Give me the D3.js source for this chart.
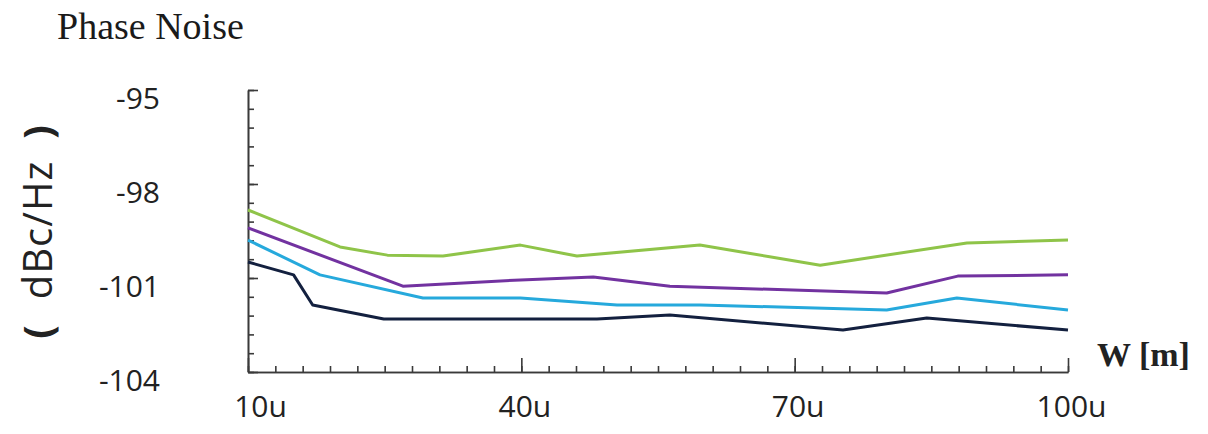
<!DOCTYPE html>
<html lang="en">
  <head>
    <title>Phase Noise</title>
    <script src="https://d3js.org/d3.v7.min.js"></script>
    <style>
      body {
        margin: 0;
        background: #fff;
      }

      .axis path,
      .axis line {
        stroke: #3a3a3a;
        stroke-width: 1.6px;
      }

      .axis text {
        font-family: "Open Sans", sans-serif;
        font-size: 30px;
        fill: #222;
      }

      .series {
        fill: none;
        stroke-width: 3px;
        stroke-linejoin: round;
      }
    </style>
  </head>
  <body>
    <script>
      // widths (u) and phase noise (dBc/Hz)
      const greenW  = [10, 20.1, 25.3, 31.4, 39.9, 46.1, 59.6, 72.8, 88.9, 100];
      const greenPN = [-98.83, -100.01, -100.27, -100.30, -99.95, -100.30, -99.95, -100.59, -99.88, -99.79];

      const purpleW  = [10, 27.0, 39.9, 47.9, 56.3, 80.1, 87.9, 100];
      const purplePN = [-99.40, -101.26, -101.06, -100.97, -101.26, -101.48, -100.94, -100.90];

      const cyanW  = [10, 17.9, 29.2, 39.9, 50.5, 59.6, 80.1, 87.8, 100];
      const cyanPN = [-99.79, -100.90, -101.64, -101.64, -101.86, -101.86, -102.02, -101.64, -102.02];

      const navyW  = [10, 15.0, 17.1, 24.9, 48.3, 56.3, 75.3, 84.5, 100];
      const navyPN = [-100.49, -100.90, -101.86, -102.31, -102.31, -102.18, -102.66, -102.28, -102.66];

      const xTicks = [10, 40, 70, 100];
      const xTickLabels = ['10u', '40u', '70u', '100u'];
      const yTicks = [-95, -98, -101, -104];

      const series = [
        { w: greenW,  pn: greenPN,  color: '#8fc449' },
        { w: purpleW, pn: purplePN, color: '#7232a0' },
        { w: cyanW,   pn: cyanPN,   color: '#26a9dc' },
        { w: navyW,   pn: navyPN,   color: '#13203f' }
      ];

      const w = 1208;
      const h = 434;
      const plotLeft = 248, plotRight = 1068, plotTop = 90, plotBottom = 372;

      const xScale = d3.scaleLinear()
                       .domain([10, 100])
                       .range([plotLeft, plotRight]);

      const yScale = d3.scaleLinear()
                       .domain([-104, -95])
                       .range([plotBottom, plotTop]);

      const svg = d3.select('body')
                    .append('svg')
                    .attr('width', w)
                    .attr('height', h);

      // minor ticks
      svg.append('g')
         .attr('class', 'axis')
         .attr('transform', `translate(0, ${plotBottom})`)
         .call(d3.axisBottom(xScale)
                 .tickValues(d3.range(0, 31).map(i => 10 + i * 3))
                 .tickSizeInner(-6).tickSizeOuter(0)
                 .tickFormat(''));

      svg.append('g')
         .attr('class', 'axis')
         .attr('transform', `translate(${plotLeft}, 0)`)
         .call(d3.axisLeft(yScale)
                 .tickValues(d3.range(0, 16).map(i => -104 + i * 0.6))
                 .tickSizeInner(-6).tickSizeOuter(0)
                 .tickFormat(''));

      // major ticks with labels
      svg.append('g')
         .attr('class', 'axis')
         .attr('transform', `translate(0, ${plotBottom})`)
         .call(d3.axisBottom(xScale)
                 .tickValues(xTicks)
                 .tickSizeInner(-14).tickSizeOuter(0)
                 .tickPadding(24)
                 .tickFormat((d, i) => xTickLabels[i]))
         .selectAll('text')
         .attr('dx', (d, i) => i === 0 ? 12 : 3);

      svg.append('g')
         .attr('class', 'axis')
         .attr('transform', `translate(${plotLeft}, 0)`)
         .call(d3.axisLeft(yScale)
                 .tickValues(yTicks)
                 .tickSizeInner(-10).tickSizeOuter(0)
                 .tickPadding(88)
                 .tickFormat(d => String(d)))
         .selectAll('text')
         .attr('dy', '0.6em');

      const line = d3.line()
                     .x(d => xScale(d[0]))
                     .y(d => yScale(d[1]));

      svg.selectAll('.series')
         .data(series)
         .enter()
         .append('path')
          .attr('class', 'series')
          .attr('stroke', d => d.color)
          .attr('d', d => line(d.w.map((x, i) => [x, d.pn[i]])));

      // titles
      svg.append('text')
         .attr('x', 57)
         .attr('y', 39)
         .attr('font-family', '"Liberation Serif", serif')
         .attr('font-size', 38)
         .attr('fill', '#1a1a1a')
         .text('Phase Noise');

      svg.append('text')
         .attr('x', 1097)
         .attr('y', 366)
         .attr('font-family', '"Liberation Serif", serif')
         .attr('font-size', 34)
         .attr('font-weight', 'bold')
         .attr('fill', '#222')
         .text('W [m]');

      const yLabel = svg.append('text')
         .attr('transform', 'translate(52, 232) rotate(-90)')
         .attr('text-anchor', 'middle')
         .attr('font-family', '"Open Sans", sans-serif')
         .attr('font-size', 40)
         .attr('fill', '#222');
      yLabel.append('tspan').attr('font-weight', 'bold').text('(');
      yLabel.append('tspan').attr('dx', 26).attr('letter-spacing', 1).text('dBc/Hz');
      yLabel.append('tspan').attr('dx', 22).attr('font-weight', 'bold').text(')');
    </script>
  </body>
</html>
